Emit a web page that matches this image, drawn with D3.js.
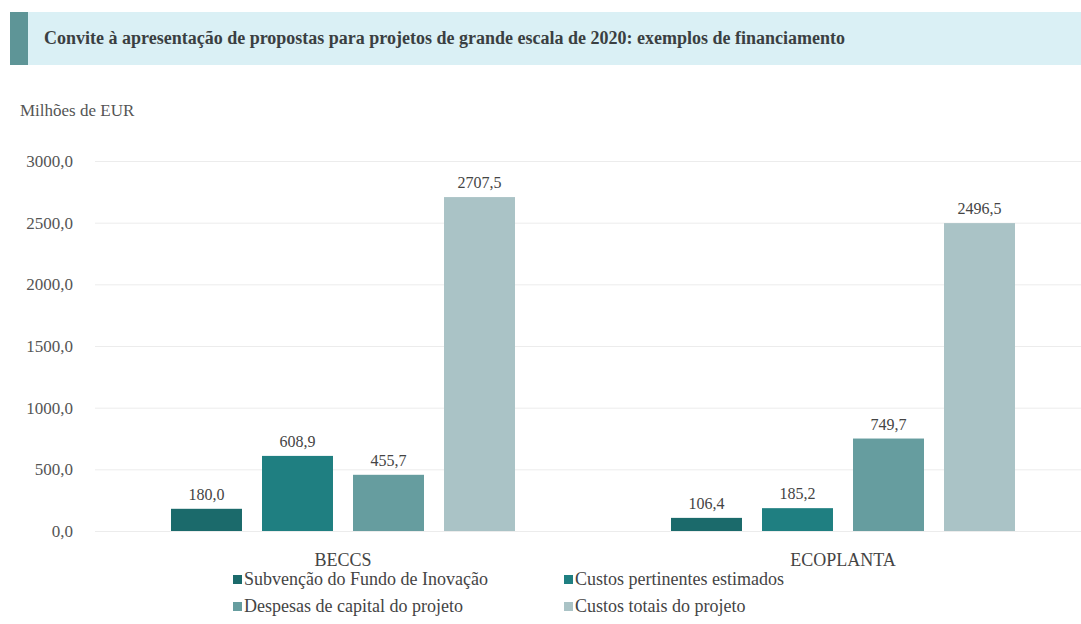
<!DOCTYPE html>
<html>
<head>
<meta charset="utf-8">
<script src="https://cdn.jsdelivr.net/npm/d3@7"></script>
<style>
  body { margin: 0; background: #fff; }
  #chart text { font-family: 'Liberation Serif', 'Times New Roman', serif !important; }
</style>
</head>
<body>
<svg id="chart" width="1081" height="624"></svg>
<script>
// data
const categories = ["BECCS", "ECOPLANTA"];
const seriesNames = [
  "Subvenção do Fundo de Inovação",
  "Custos pertinentes estimados",
  "Despesas de capital do projeto",
  "Custos totais do projeto"
];
const beccsValues = [180.0, 608.9, 455.7, 2707.5];
const ecoplantaValues = [106.4, 185.2, 749.7, 2496.5];
const yTicks = [0, 500, 1000, 1500, 2000, 2500, 3000];
const colors = ["#1b6a6b", "#1f7f81", "#669d9f", "#aac3c6"];

const rows = [
  { cat: categories[0], values: beccsValues },
  { cat: categories[1], values: ecoplantaValues }
];

const FONT = "'Liberation Serif', serif";
const svg = d3.select("#chart");
const fmt = v => d3.format(".1f")(v).replace(".", ",");

// title banner
svg.append("rect").attr("x", 10).attr("y", 12).attr("width", 1071).attr("height", 53).attr("fill", "#daf0f5");
svg.append("rect").attr("x", 10).attr("y", 12).attr("width", 18).attr("height", 53).attr("fill", "#5e9597");
svg.append("text")
  .attr("x", 44).attr("y", 44)
  .style("font-family", FONT, "important")
  .attr("font-size", "18px").attr("font-weight", "bold").attr("fill", "#3a3f42")
  .text("Convite à apresentação de propostas para projetos de grande escala de 2020: exemplos de financiamento");

// unit label
svg.append("text")
  .attr("x", 20).attr("y", 116)
  .style("font-family", FONT, "important")
  .attr("font-size", "17px").attr("fill", "#555")
  .text("Milhões de EUR");

// scales
const y = d3.scaleLinear().domain([0, 3000]).range([531, 161]);
const x0 = d3.scaleBand().domain(categories).range([93, 1093]);
const x1 = d3.scaleBand().domain(d3.range(seriesNames.length))
  .range([x0.bandwidth() / 2 - 172, x0.bandwidth() / 2 + 172]).paddingInner(0.22);

// grid + y axis
const yAxis = svg.append("g")
  .attr("transform", "translate(95,0)")
  .call(d3.axisLeft(y).tickValues(yTicks).tickSize(-986).tickFormat(fmt))
  .attr("font-family", null);
yAxis.select(".domain").remove();
yAxis.selectAll(".tick line").attr("stroke", "#ececec");
yAxis.selectAll(".tick text")
  .style("font-family", FONT, "important")
  .attr("x", -22).attr("font-size", "17px").attr("fill", "#555");

// bars
const groups = svg.selectAll(".grp")
  .data(rows)
  .join("g")
  .attr("transform", d => `translate(${x0(d.cat)},0)`);

groups.selectAll("rect")
  .data(d => d.values.map((v, i) => ({ v, i })))
  .join("rect")
  .attr("x", d => x1(d.i))
  .attr("y", d => y(d.v))
  .attr("width", x1.bandwidth())
  .attr("height", d => y(0) - y(d.v))
  .attr("fill", d => colors[d.i]);

groups.selectAll(".lbl")
  .data(d => d.values.map((v, i) => ({ v, i })))
  .join("text")
  .attr("class", "lbl")
  .attr("x", d => x1(d.i) + x1.bandwidth() / 2)
  .attr("y", d => y(d.v) - 9)
  .attr("text-anchor", "middle")
  .style("font-family", FONT, "important")
  .attr("font-size", "16px").attr("fill", "#444")
  .text(d => fmt(d.v));

// category labels
svg.selectAll(".cat")
  .data(categories)
  .join("text")
  .attr("x", d => x0(d) + x0.bandwidth() / 2)
  .attr("y", 566)
  .attr("text-anchor", "middle")
  .style("font-family", FONT, "important")
  .attr("font-size", "18px").attr("fill", "#444")
  .text(d => d);

// legend
const legendPos = [[233, 585], [564, 585], [233, 612], [564, 612]];
const leg = svg.selectAll(".leg")
  .data(seriesNames)
  .join("g")
  .attr("transform", (d, i) => `translate(${legendPos[i][0]},${legendPos[i][1]})`);
leg.append("rect").attr("x", 0).attr("y", -10).attr("width", 9).attr("height", 9)
  .attr("fill", (d, i) => colors[i]);
leg.append("text").attr("x", 11).attr("y", 0)
  .style("font-family", FONT, "important")
  .attr("font-size", "18px").attr("fill", "#444")
  .text(d => d);
</script>
</body>
</html>
